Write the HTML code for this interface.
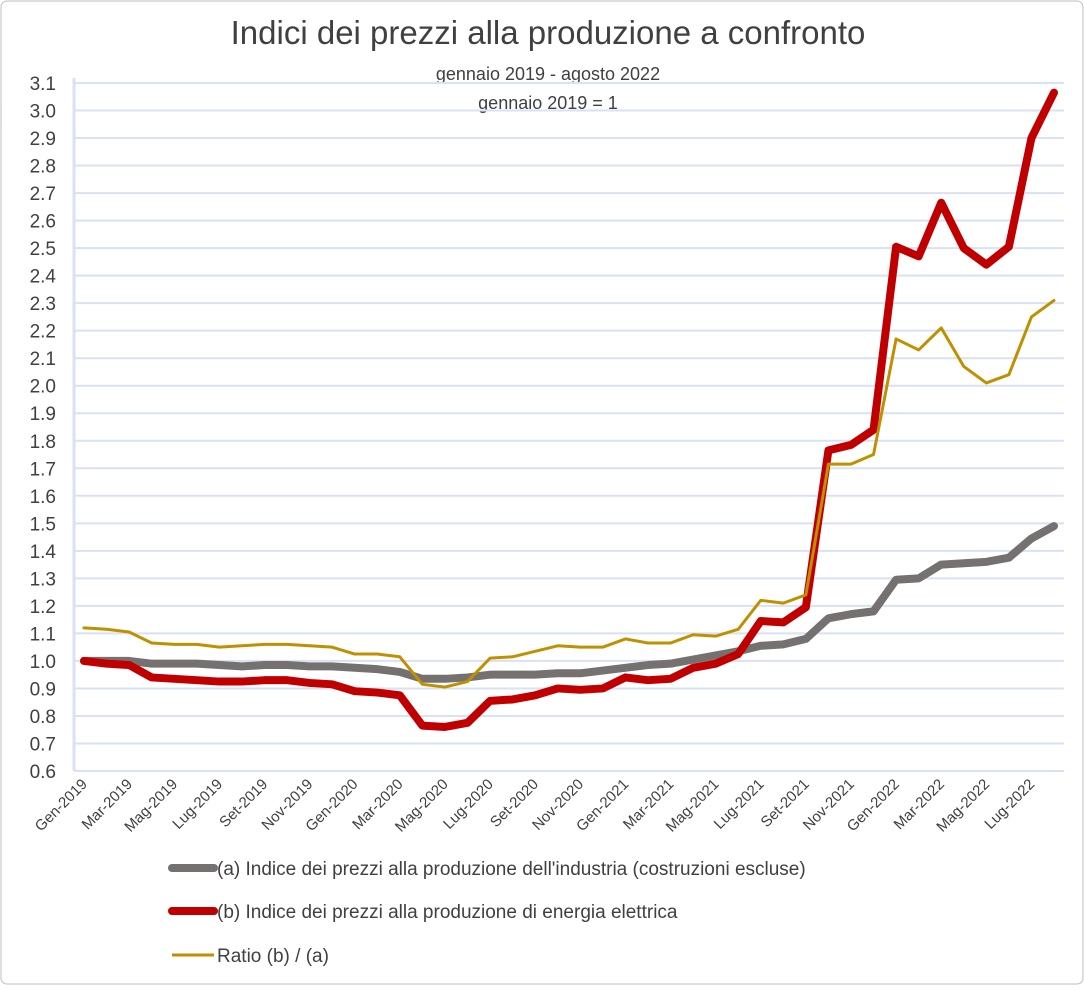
<!DOCTYPE html>
<html><head><meta charset="utf-8"><style>
body{margin:0;background:#fff;font-family:"Liberation Sans",sans-serif}
svg text{font-family:"Liberation Sans",sans-serif;fill:#404040}
</style></head><body>
<svg id="chart" width="1084" height="985" viewBox="0 0 1084 985" xmlns="http://www.w3.org/2000/svg">
<rect x="1" y="1" width="1082" height="983" rx="6" fill="#fff" stroke="#bfbfbf"/>
<text x="548" y="44" font-size="33" text-anchor="middle" fill="#595959">Indici dei prezzi alla produzione a confronto</text>
<text x="548" y="80" font-size="18" text-anchor="middle">gennaio 2019 - agosto 2022</text>
<text x="548" y="109" font-size="18" text-anchor="middle">gennaio 2019 = 1</text>
<g id="grid"></g><g id="yticks"></g><g id="xticks"></g><g id="series"></g>
<g>
<line x1="172" y1="868" x2="214" y2="868" stroke="#767171" stroke-width="8" stroke-linecap="round"/>
<text x="217" y="875" font-size="19">(a) Indice dei prezzi alla produzione dell'industria (costruzioni escluse)</text>
<line x1="172" y1="911" x2="214" y2="911" stroke="#c00000" stroke-width="8" stroke-linecap="round"/>
<text x="217" y="918" font-size="19">(b) Indice dei prezzi alla produzione di energia elettrica</text>
<line x1="172" y1="955" x2="214" y2="955" stroke="#bf9000" stroke-width="3"/>
<text x="217" y="962" font-size="19">Ratio (b) / (a)</text>
</g>
</svg>
<script>
const months=["Gen","Feb","Mar","Apr","Mag","Giu","Lug","Ago","Set","Ott","Nov","Dic"];
const categories=[];for(let y=2019;y<=2022;y++)for(let m=0;m<12;m++){if(y===2022&&m>7)break;categories.push(months[m]+"-"+y);}
const seriesA=[1.00,1.00,1.00,0.99,0.99,0.99,0.985,0.98,0.985,0.985,0.98,0.98,0.975,0.97,0.96,0.935,0.935,0.94,0.95,0.95,0.95,0.955,0.955,0.965,0.975,0.985,0.99,1.005,1.02,1.035,1.055,1.06,1.08,1.155,1.17,1.18,1.295,1.30,1.35,1.355,1.36,1.375,1.445,1.49];
const seriesB=[1.00,0.99,0.985,0.94,0.935,0.93,0.925,0.925,0.93,0.93,0.92,0.915,0.89,0.885,0.875,0.765,0.76,0.775,0.855,0.86,0.875,0.90,0.895,0.90,0.94,0.93,0.935,0.975,0.99,1.025,1.145,1.14,1.195,1.765,1.785,1.84,2.505,2.47,2.665,2.50,2.44,2.505,2.90,3.065];
const seriesRatio=[1.12,1.115,1.105,1.065,1.06,1.06,1.05,1.055,1.06,1.06,1.055,1.05,1.025,1.025,1.015,0.915,0.905,0.925,1.01,1.015,1.035,1.055,1.05,1.05,1.08,1.065,1.065,1.095,1.09,1.115,1.22,1.21,1.24,1.715,1.715,1.75,2.17,2.13,2.21,2.07,2.01,2.04,2.25,2.31];
const yTicks=[0.6,0.7,0.8,0.9,1.0,1.1,1.2,1.3,1.4,1.5,1.6,1.7,1.8,1.9,2.0,2.1,2.2,2.3,2.4,2.5,2.6,2.7,2.8,2.9,3.0,3.1];
const NS="http://www.w3.org/2000/svg";
const yMin=0.6,yMax=3.1,yBot=771,yTop=83,xL=74,xR=1064;
const y=v=>yBot-(v-yMin)/(yMax-yMin)*(yBot-yTop);
const step=(xR-xL-20)/(categories.length-1);
const x=i=>xL+10+i*step;
function mk(t,a,p){const e=document.createElementNS(NS,t);for(const k in a)e.setAttribute(k,a[k]);p.appendChild(e);return e;}
const grid=document.getElementById('grid'),yt=document.getElementById('yticks'),xt=document.getElementById('xticks'),se=document.getElementById('series');
yTicks.forEach(v=>{
 const l=mk('line',{x1:xL,x2:xR,y1:y(v),y2:y(v),stroke:'#d9e1f2','stroke-width':2},grid);
 
 
 const t=mk('text',{x:56,y:y(v)+7,'font-size':19,'text-anchor':'end'},yt);t.textContent=v.toFixed(1);
 
 
});
const ax=mk('line',{x1:xL,x2:xL,y1:yTop-5,y2:yBot,stroke:'#d9e1f2','stroke-width':3},grid);


categories.forEach((c,i)=>{
 if(i%2)return;
 const t=mk('text',{x:x(i)+4,y:785,'font-size':15,'text-anchor':'end',transform:`rotate(-45 ${x(i)+4} 785)`},xt);t.textContent=c;
 
 
});
function line(data,color,w,name){
 const p=mk('polyline',{points:data.map((v,i)=>x(i)+','+y(v)).join(' '),fill:'none',stroke:color,'stroke-width':w,'stroke-linejoin':'round','stroke-linecap':'round'},se);
 
 
}
line(seriesA,'#767171',8,'series-a-line');
line(seriesB,'#c00000',8,'series-b-line');
line(seriesRatio,'#bf9000',3,'series-ratio-line');
</script>
</body></html>
